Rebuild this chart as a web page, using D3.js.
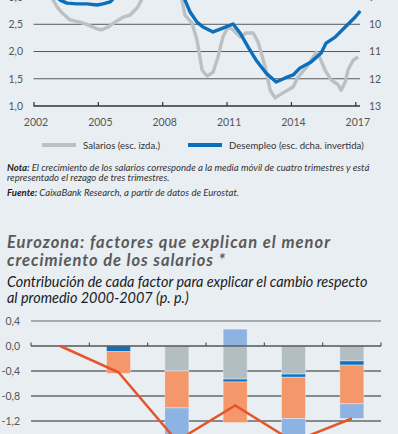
<!DOCTYPE html>
<html><head><meta charset="utf-8">
<script src="https://cdn.jsdelivr.net/npm/d3@7"></script>
<style>
html,body{margin:0;padding:0;background:#e9eef3;}
svg{display:block;}
text{font-family:Lato,"Open Sans",sans-serif;}
</style></head>
<body>
<svg id="c" width="398" height="434"></svg>
<script>
// ---------- DATA: top chart ----------
const yearTicks = [2002, 2005, 2008, 2011, 2014, 2017];
const salariosTicks = [1.0, 1.5, 2.0, 2.5, 3.0];
const desempleoTicks = [13, 12, 11, 10, 9];
// [fecha, crecimiento salarial %] (esc. izda.)
const salarios = [
  [2002.00,3.50],[2002.60,3.20],[2002.91,2.95],[2003.10,2.82],[2003.33,2.71],[2003.70,2.58],
  [2004.17,2.54],[2004.54,2.49],[2005.01,2.41],[2005.19,2.40],[2005.47,2.45],[2005.80,2.54],
  [2006.17,2.63],[2006.50,2.67],[2006.83,2.80],[2007.01,2.93],[2007.30,3.20],[2007.70,3.50],
  [2008.10,3.70],[2008.50,3.60],[2008.80,3.20],[2009.06,2.67],[2009.39,2.52],[2009.62,2.21],
  [2009.86,1.66],[2010.09,1.55],[2010.37,1.62],[2010.60,1.90],[2010.83,2.27],[2011.07,2.45],
  [2011.30,2.40],[2011.63,2.27],[2011.91,2.34],[2012.24,2.34],[2012.47,2.17],[2012.80,1.72],
  [2013.03,1.29],[2013.26,1.15],[2013.63,1.24],[2014.10,1.35],[2014.33,1.53],[2014.80,1.75],
  [2015.04,1.90],[2015.18,1.99],[2015.36,1.88],[2015.59,1.66],[2015.87,1.48],[2016.20,1.39],
  [2016.34,1.29],[2016.53,1.44],[2016.66,1.66],[2016.90,1.84],[2017.13,1.90]
];
// [fecha, tasa de desempleo %] (esc. dcha. invertida)
const desempleo = [
  [2002.00,8.40],[2002.50,8.60],[2003.00,8.95],[2003.24,9.11],[2003.56,9.22],[2004.03,9.25],
  [2004.49,9.25],[2004.96,9.29],[2005.24,9.25],[2005.57,9.18],[2005.66,9.11],[2006.00,8.80],
  [2006.50,8.30],[2007.00,7.80],[2007.50,7.50],[2008.00,7.30],[2008.50,7.50],[2008.80,8.20],
  [2009.06,9.11],[2009.30,9.55],[2009.62,9.92],[2009.90,10.10],[2010.37,10.28],[2010.83,10.14],
  [2011.30,9.99],[2011.63,10.32],[2012.00,10.83],[2012.37,11.31],[2012.84,11.79],[2013.31,12.12],
  [2013.73,11.97],[2014.10,11.86],[2014.43,11.60],[2014.94,11.38],[2015.41,11.05],[2015.64,10.69],
  [2016.06,10.47],[2016.53,10.10],[2017.00,9.73],[2017.23,9.51]
];

// ---------- DATA: bottom chart ----------
const categorias = ["Alemania", "Francia", "Italia", "España", "Portugal", "Eurozona"];
const serieGris = [0, 0, -0.40, -0.53, -0.45, -0.24];
const serieAzulOscuro = [0, -0.09, 0, -0.045, -0.05, -0.065];
const serieNaranja = [0, -0.35, -0.59, -0.65, -0.66, -0.62];
const serieAzulClaro = [0, 0, -0.53, 0.27, -0.38, -0.235];
const totalLinea = [0, -0.42, -1.52, -0.95, -1.53, -1.16];
const barTicks = [0.4, 0.0, -0.4, -0.8, -1.2];

const comma = d => d3.format(".1f")(d).replace(".", ",").replace("−", "-");

const svg = d3.select("#c");
svg.append("rect").attr("width", 398).attr("height", 434).attr("fill", "#e9eef3");

function fit(sel, target) {
  const n = sel.node();
  const s = parseFloat(sel.attr("font-size"));
  const w = n.getComputedTextLength();
  const ns = s * target / w;
  sel.attr("font-size", ns);
  return ns;
}
function span(sel, target) {
  sel.attr("textLength", target).attr("lengthAdjust", "spacing");
}

// ---------- TOP CHART ----------
const x = d3.scaleLinear().domain([2002, 2017]).range([33.5, 355.3]);
const yL = d3.scaleLinear().domain([1, 4]).range([106, 106 - 3 * 54.47]);
const yR = d3.scaleLinear().domain([13, 7]).range([106, 106 - 6 * 27.23]);
const topG = svg.append("g");

topG.selectAll("line.grid").data(salariosTicks.filter(d => d > 1)).join("line")
  .attr("x1", 33.5).attr("x2", 360).attr("y1", d => yL(d)).attr("y2", d => yL(d))
  .attr("stroke", "#5a5a5a").attr("stroke-width", 1);

const xAx = topG.append("g").attr("transform", `translate(0,${yL(1)})`)
  .call(d3.axisBottom(x).tickValues(yearTicks).tickFormat(d3.format("d")).tickSize(-4).tickSizeOuter(0).tickPadding(13));
xAx.select(".domain").remove();
xAx.selectAll(".tick line").attr("stroke", "#333").attr("stroke-width", 1.2);
xAx.selectAll("text").attr("font-size", 10.5).attr("fill", "#555").attr("dx", 2).attr("font-family", "Lato");
topG.append("line").attr("x1", 33.5).attr("x2", 360).attr("y1", yL(1)).attr("y2", yL(1))
  .attr("stroke", "#333").attr("stroke-width", 1.4);

const lAx = topG.append("g").attr("transform", "translate(23,0)")
  .call(d3.axisLeft(yL).tickValues(salariosTicks).tickSize(0).tickPadding(0).tickFormat(comma));
lAx.select(".domain").remove();
lAx.selectAll("text").attr("font-size", 10.5).attr("fill", "#555").attr("font-family", "Lato");

const rAx = topG.append("g").attr("transform", "translate(369,0)")
  .call(d3.axisRight(yR).tickValues(desempleoTicks).tickSize(0).tickPadding(0).tickFormat(d3.format("d")));
rAx.select(".domain").remove();
rAx.selectAll("text").attr("font-size", 10.5).attr("fill", "#555").attr("font-family", "Lato");

topG.append("path").datum(salarios)
  .attr("d", d3.line().x(d => x(d[0])).y(d => yL(d[1])))
  .attr("fill", "none").attr("stroke", "#b9c1c5").attr("stroke-width", 3.4).attr("stroke-linejoin", "round");
topG.append("path").datum(desempleo)
  .attr("d", d3.line().x(d => x(d[0])).y(d => yR(d[1])))
  .attr("fill", "none").attr("stroke", "#0b6fbb").attr("stroke-width", 3.4).attr("stroke-linejoin", "round");

// legend
const lg = svg.append("g");
lg.append("line").attr("x1", 42).attr("x2", 76).attr("y1", 145).attr("y2", 145).attr("stroke", "#b9c1c5").attr("stroke-width", 4);
const lt1 = lg.append("text").attr("x", 83).attr("y", 148.5).attr("font-size", 10).attr("fill", "#333").text("Salarios (esc. izda.)");
const lsz = fit(lt1, 77);
lg.append("line").attr("x1", 188).attr("x2", 222).attr("y1", 145).attr("y2", 145).attr("stroke", "#0b6fbb").attr("stroke-width", 4);
lg.append("text").attr("x", 229).attr("y", 148.5).attr("font-size", lsz).attr("fill", "#333").text("Desempleo (esc. dcha. invertida)");

// notes
const n1 = svg.append("text").attr("x", 7).attr("y", 171).attr("font-size", 10).attr("fill", "#333").attr("font-style", "italic");
n1.append("tspan").attr("font-weight", "bold").attr("fill", "#222").text("Nota: ");
n1.append("tspan").text("El crecimiento de los salarios corresponde a la media móvil de cuatro trimestres y está");
const nsz = fit(n1, 363);
svg.append("text").attr("x", 7).attr("y", 181.2).attr("font-size", nsz).attr("fill", "#333").attr("font-style", "italic")
  .text("representado el rezago de tres trimestres.");
const n3 = svg.append("text").attr("x", 7).attr("y", 196).attr("font-size", nsz).attr("fill", "#333").attr("font-style", "italic");
n3.append("tspan").attr("font-weight", "bold").attr("fill", "#222").text("Fuente: ");
n3.append("tspan").text("CaixaBank Research, a partir de datos de Eurostat.");

// titles
const t1 = svg.append("text").attr("x", 7).attr("y", 248.3).attr("font-size", 16.5).attr("font-weight", "bold")
  .attr("font-style", "italic").attr("fill", "#5a5a5a").text("Eurozona: factores que explican el menor");
span(t1, 323);
const t2 = svg.append("text").attr("x", 7).attr("y", 266).attr("font-size", 16.5).attr("font-weight", "bold")
  .attr("font-style", "italic").attr("fill", "#5a5a5a").text("crecimiento de los salarios *");
span(t2, 218);
const s1 = svg.append("text").attr("x", 7).attr("y", 286.7).attr("font-size", 13).attr("font-style", "italic")
  .attr("fill", "#1a1a1a").text("Contribución de cada factor para explicar el cambio respecto");
const ssz = fit(s1, 361);
svg.append("text").attr("x", 7).attr("y", 303).attr("font-size", ssz).attr("font-style", "italic")
  .attr("fill", "#1a1a1a").text("al promedio 2000-2007 (p. p.)");

// ---------- BOTTOM CHART ----------
const keys = ["gris", "azulOscuro", "naranja", "azulClaro"];
const colors = { gris: "#b3bec3", azulOscuro: "#0c72bf", naranja: "#f4976b", azulClaro: "#8db3e2" };
const table = categorias.map((c, i) => ({
  cat: c, gris: serieGris[i], azulOscuro: serieAzulOscuro[i], naranja: serieNaranja[i], azulClaro: serieAzulClaro[i], total: totalLinea[i]
}));
const xb = d3.scaleBand().domain(categorias).range([31, 381]).paddingInner(0.5886).paddingOuter(0.2943);
const yb = d3.scaleLinear().domain([0, 1]).range([346, 346 - 62.5]);
const bot = svg.append("g");

bot.selectAll("line.g2").data([0.4, -0.4, -0.8, -1.2, -1.6, -2.0]).join("line")
  .attr("x1", 31).attr("x2", 381).attr("y1", d => yb(d)).attr("y2", d => yb(d))
  .attr("stroke", d => d > 0 ? "#666" : "#262626").attr("stroke-width", 1.1);

const bAx = bot.append("g").attr("transform", "translate(20,0)")
  .call(d3.axisLeft(yb).tickValues(barTicks).tickSize(0).tickPadding(0).tickFormat(comma));
bAx.select(".domain").remove();
bAx.selectAll("text").attr("font-size", 10.5).attr("fill", "#555").attr("font-family", "Lato");

const series = d3.stack().keys(keys).offset(d3.stackOffsetDiverging)(table);
bot.selectAll("g.s").data(series).join("g").attr("fill", d => colors[d.key])
  .selectAll("rect").data(d => d).join("rect")
  .attr("x", d => xb(d.data.cat)).attr("width", xb.bandwidth())
  .attr("y", d => yb(Math.max(d[0], d[1]))).attr("height", d => Math.abs(yb(d[0]) - yb(d[1])))
  .attr("stroke", "rgba(255,255,255,0.35)").attr("stroke-width", 1);

// zero axis with ticks at band boundaries
const bounds = d3.range(categorias.length + 1).map(i => xb.range()[0] + i * xb.step());
bot.append("line").attr("x1", 31).attr("x2", 381).attr("y1", yb(0)).attr("y2", yb(0)).attr("stroke", "#555").attr("stroke-width", 1.5);
bot.selectAll("line.tk").data(bounds).join("line")
  .attr("x1", d => d).attr("x2", d => d).attr("y1", yb(0)).attr("y2", yb(0) - 3.5)
  .attr("stroke", "#555").attr("stroke-width", 1.2);

bot.append("path").datum(table)
  .attr("d", d3.line().x(d => xb(d.cat) + xb.bandwidth() / 2).y(d => yb(d.total)))
  .attr("fill", "none").attr("stroke", "#e5552a").attr("stroke-width", 2.5);
</script>
</body></html>
